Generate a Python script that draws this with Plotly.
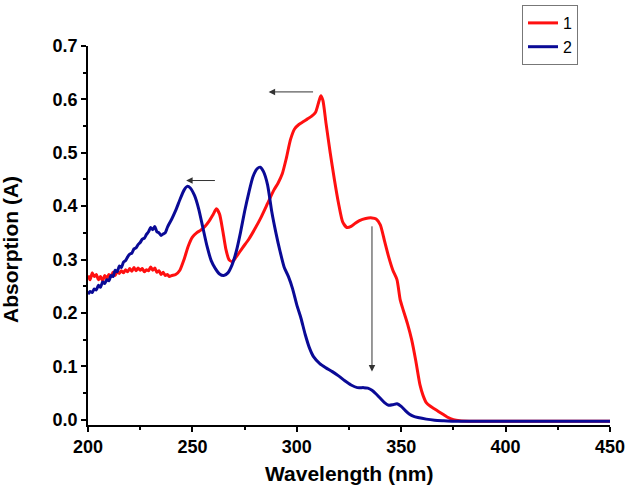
import plotly.graph_objects as go

# Series 1 (red)
x1 = [200, 201, 202, 203, 204, 205, 206, 207, 208, 209, 210, 211, 212, 213, 214, 215, 216, 217, 218, 219,
      220, 221, 222, 223, 224, 225, 226, 227, 228, 229, 230, 231, 232, 233, 234, 235, 236, 237, 238, 239,
      240, 242, 244, 246, 248, 250, 252, 254, 256, 258, 260, 261.5, 263, 264.5, 266, 267.5, 269, 271, 274,
      277, 280, 283, 286, 289, 291, 293, 295, 297, 299, 301, 303, 305, 307, 309, 310.5, 311.5, 312.5, 314,
      316, 318, 320, 322, 324, 326, 328, 330, 333, 336, 338, 340, 342, 344, 346, 348, 349.5, 351, 353, 355,
      357, 359, 360.5, 362, 364, 366, 368, 370, 372, 375, 378, 385, 400, 420, 450]
y1 = [0.270, 0.262, 0.275, 0.268, 0.272, 0.262, 0.268, 0.260, 0.270, 0.265, 0.272, 0.268, 0.276, 0.270,
      0.278, 0.274, 0.279, 0.275, 0.281, 0.277, 0.283, 0.278, 0.285, 0.279, 0.284, 0.280, 0.283, 0.277,
      0.281, 0.279, 0.286, 0.280, 0.284, 0.276, 0.279, 0.272, 0.276, 0.270, 0.272, 0.268, 0.270, 0.272,
      0.280, 0.300, 0.325, 0.342, 0.350, 0.355, 0.362, 0.372, 0.385, 0.395, 0.385, 0.355, 0.320, 0.300,
      0.296, 0.305, 0.322, 0.338, 0.358, 0.380, 0.405, 0.430, 0.443, 0.460, 0.490, 0.525, 0.545, 0.553,
      0.558, 0.563, 0.568, 0.576, 0.595, 0.607, 0.598, 0.555, 0.500, 0.450, 0.405, 0.370, 0.360, 0.362,
      0.368, 0.373, 0.377, 0.378, 0.376, 0.365, 0.335, 0.305, 0.280, 0.262, 0.225, 0.205, 0.180, 0.150,
      0.110, 0.065, 0.045, 0.032, 0.025, 0.020, 0.015, 0.010, 0.005, 0.000, -0.002, -0.003, -0.003,
      -0.003, -0.003]

# Series 2 (blue)
x2 = [200, 201, 202, 203, 204, 205, 206, 207, 208, 209, 210, 211, 212, 213, 214, 215, 216, 217, 218, 219,
      220, 221, 222, 223, 224, 225, 226, 227, 228, 229, 230, 231, 232, 233, 234, 235, 236, 237, 238, 239,
      240, 242, 244, 246, 247.5, 249, 251, 253, 255, 257, 259, 261, 263, 265, 267, 269, 271, 273, 275, 277,
      279, 281, 282.5, 284, 286, 288, 290, 292, 294, 296, 298, 300, 302, 304, 306, 308, 311, 314, 317, 320,
      323, 326, 329, 332, 334, 336, 338, 340, 342, 344, 346, 348, 350, 352, 354, 356, 358, 362, 366, 370,
      375, 380, 400, 450]
y2 = [0.235, 0.240, 0.238, 0.245, 0.243, 0.252, 0.248, 0.258, 0.255, 0.262, 0.260, 0.270, 0.268, 0.280,
      0.277, 0.288, 0.285, 0.295, 0.298, 0.305, 0.310, 0.312, 0.320, 0.322, 0.328, 0.332, 0.338, 0.340,
      0.347, 0.352, 0.360, 0.356, 0.362, 0.352, 0.350, 0.345, 0.348, 0.350, 0.360, 0.368, 0.375, 0.392,
      0.412, 0.430, 0.437, 0.434, 0.420, 0.395, 0.360, 0.325, 0.298, 0.283, 0.273, 0.270, 0.275, 0.290,
      0.315, 0.350, 0.390, 0.425, 0.455, 0.470, 0.473, 0.465, 0.440, 0.390, 0.350, 0.315, 0.285, 0.268,
      0.245, 0.215, 0.190, 0.160, 0.135, 0.118, 0.105, 0.097, 0.090, 0.082, 0.073, 0.065, 0.060, 0.060,
      0.059, 0.055, 0.048, 0.040, 0.032, 0.027, 0.028, 0.030, 0.025, 0.017, 0.010, 0.006, 0.004, 0.001,
      -0.001, -0.002, -0.003, -0.003, -0.003, -0.003]

series_names = ["1", "2"]
x_ticks = [200, 250, 300, 350, 400, 450]
y_ticks = [0.0, 0.1, 0.2, 0.3, 0.4, 0.5, 0.6, 0.7]
x_title = "Wavelength (nm)"
y_title = "Absorption (A)"

# Arrows: (tail x, tail y, head x, head y)
arrows = [
    (308.5, 0.614, 286.5, 0.614),
    (261.5, 0.448, 247.0, 0.448),
    (336.0, 0.365, 336.0, 0.090),
]

FONT = "Liberation Sans, Arial, sans-serif"

fig = go.Figure()
fig.add_trace(go.Scatter(x=x1, y=y1, mode="lines", name=series_names[0],
                         line=dict(color="#ff1010", width=3, shape="spline", smoothing=0.6)))
fig.add_trace(go.Scatter(x=x2, y=y2, mode="lines", name=series_names[1],
                         line=dict(color="#0a0a96", width=3, shape="spline", smoothing=0.6)))

for tx, ty, hx, hy in arrows:
    fig.add_annotation(x=hx, y=hy, ax=tx, ay=ty, xref="x", yref="y", axref="x", ayref="y",
                       text="", showarrow=True, arrowhead=2, arrowsize=1.3, arrowwidth=1,
                       arrowcolor="#333333")

# Axis titles as annotations for exact placement
fig.add_annotation(text=f"<b>{x_title}</b>", xref="paper", yref="paper", x=0.5, y=-0.127,
                   xanchor="center", yanchor="middle", showarrow=False,
                   font=dict(family=FONT, size=21, color="black"))
fig.add_annotation(text=f"<b>{y_title}</b>", xref="paper", yref="paper", x=-0.1475, y=0.462,
                   xanchor="center", yanchor="middle", showarrow=False, textangle=-90,
                   font=dict(family=FONT, size=21, color="black"))

axis_font = dict(family=FONT, size=18, color="black")
fig.update_layout(
    width=630, height=488,
    margin=dict(l=88, r=20, t=46, b=63, autoexpand=False),
    paper_bgcolor="white", plot_bgcolor="white",
    font=dict(family=FONT, color="black"),
    legend=dict(x=522 / 630, y=1 - 5 / 488, xref="container", yref="container",
                xanchor="left", yanchor="top",
                bordercolor="#777777", borderwidth=1, bgcolor="white",
                font=dict(size=16, family=FONT),
                tracegroupgap=0, itemwidth=30),
    xaxis=dict(range=[200, 450], tickvals=x_ticks, ticktext=[f"<b>{v}</b>" for v in x_ticks],
               ticks="outside", ticklen=5, tickwidth=1.5, tickcolor="black", automargin=False,
               showline=True, linecolor="black", linewidth=1.5, showgrid=False, zeroline=False,
               tickfont=axis_font,
               minor=dict(dtick=25, tick0=200, ticks="outside", ticklen=3, tickwidth=1.5, tickcolor="black", showgrid=False)),
    yaxis=dict(range=[-0.01, 0.7], tickvals=y_ticks, ticktext=[f"<b>{v:.1f}</b>" for v in y_ticks],
               ticks="outside", ticklen=5, tickwidth=1.5, tickcolor="black", automargin=False,
               showline=True, linecolor="black", linewidth=1.5, showgrid=False, zeroline=False,
               tickfont=axis_font,
               minor=dict(dtick=0.05, tick0=0, ticks="outside", ticklen=3, tickwidth=1.5, tickcolor="black", showgrid=False)),
    showlegend=True,
)

fig.write_html("out.html", config={"displayModeBar": False},
               post_script="document.body.style.margin='0';document.body.style.overflow='hidden';")
